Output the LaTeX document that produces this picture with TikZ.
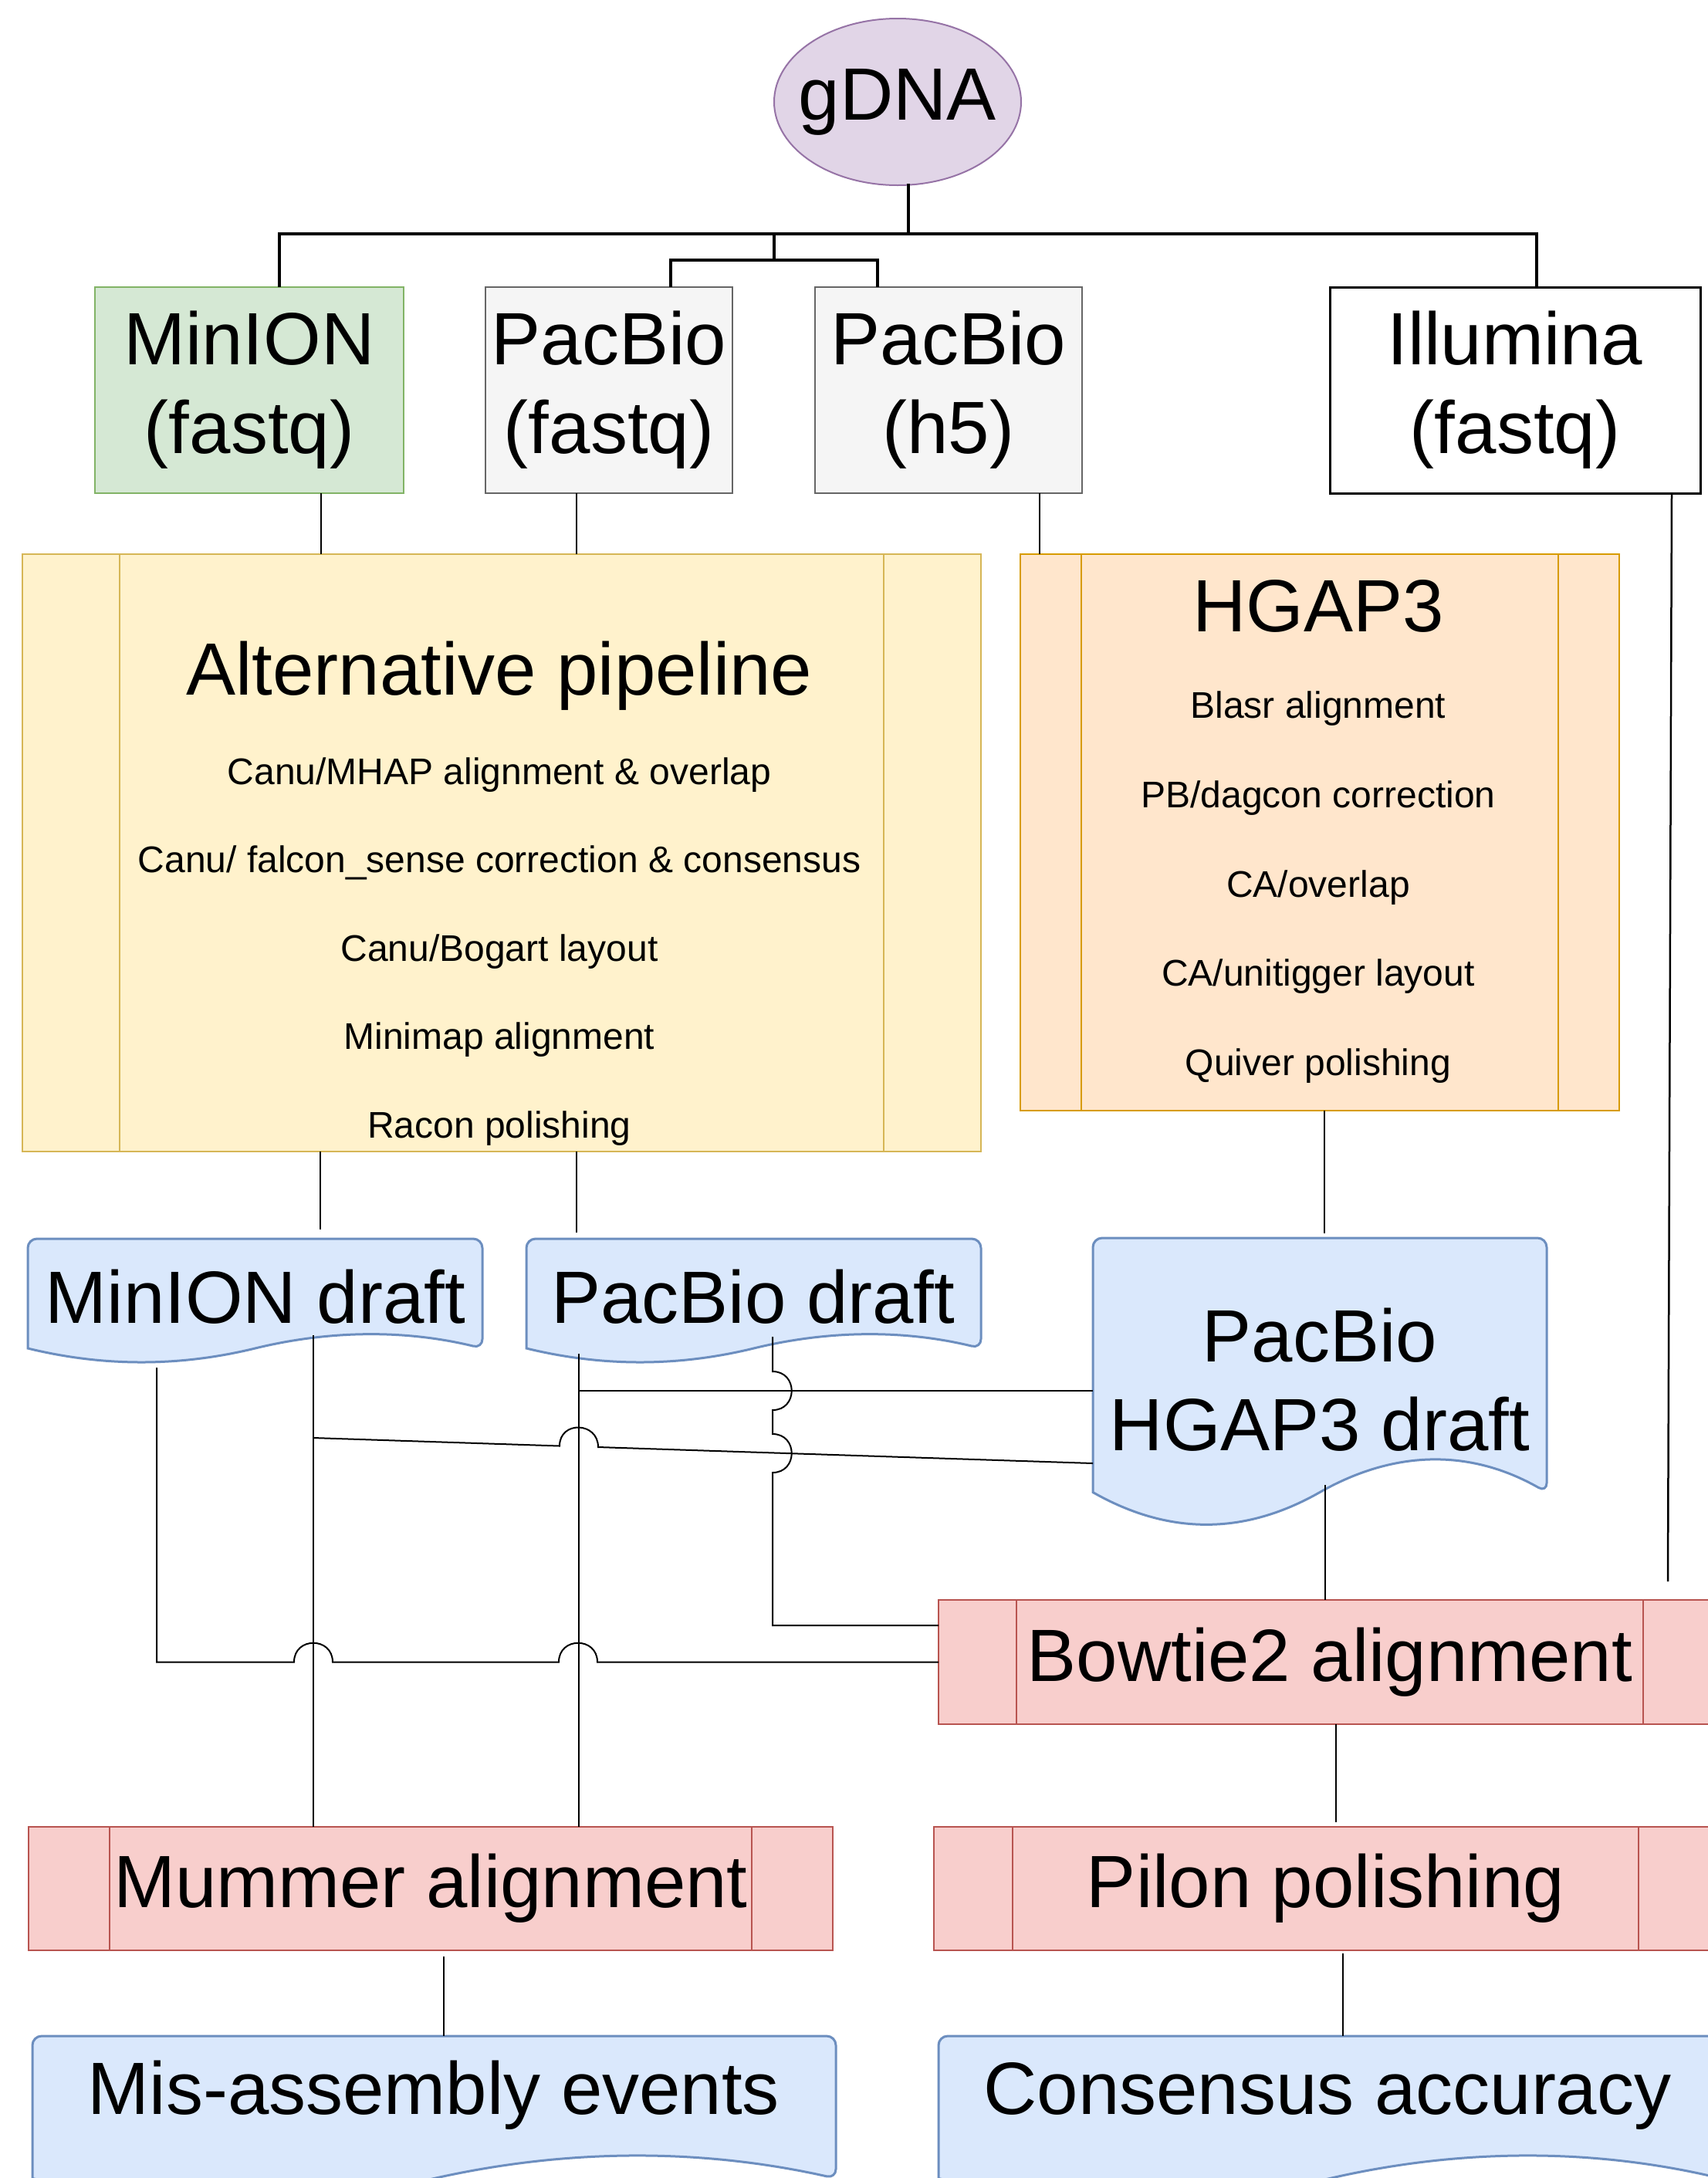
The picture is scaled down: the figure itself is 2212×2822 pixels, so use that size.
\documentclass[tikz,border=0pt]{standalone}
\usepackage{fontspec}
\setmainfont{Liberation Sans}
\usetikzlibrary{calc,shapes.geometric}
\definecolor{gfill}{HTML}{E1D5E7}\definecolor{gline}{HTML}{9673A6}
\definecolor{mfill}{HTML}{D5E8D4}\definecolor{mline}{HTML}{82B366}
\definecolor{pfill}{HTML}{F5F5F5}\definecolor{pline}{HTML}{666666}
\definecolor{afill}{HTML}{FFF2CC}\definecolor{aline}{HTML}{D6B656}
\definecolor{hfill}{HTML}{FFE6CC}\definecolor{hline}{HTML}{D79B00}
\definecolor{dfill}{HTML}{DAE8FC}\definecolor{dline}{HTML}{6C8EBF}
\definecolor{rfill}{HTML}{F8CECC}\definecolor{rline}{HTML}{B85450}
\tikzset{
 every node/.style={inner sep=0pt, outer sep=0pt},
 bigtxt/.style={font=\fontsize{96}{115}\selectfont},
 smtxt/.style={font=\fontsize{48}{58}\selectfont},
 srcbox/.style={rectangle, line width=2pt, minimum height=267pt, align=center, bigtxt},
 procbox/.style={rectangle, draw=rline, fill=rfill, line width=2pt, minimum height=161pt, bigtxt},
 stagebox/.style={rectangle, line width=2pt},
 docnode/.style={rectangle},
 docstyle/.style={fill=dfill, draw=dline, line width=3pt},
 conn/.style={draw=black, line width=2pt},
 busline/.style={draw=black, line width=4pt},
}
\newcommand\procsides[3]{\draw[#3, line width=2pt] ($(#1.north west)+(#2,0)$) -- ($(#1.south west)+(#2,0)$) ($(#1.north east)+(-#2,0)$) -- ($(#1.south east)+(-#2,0)$);}
\newcommand\docshape[2]{%
\path[docstyle] let \p1=(#1.south west), \p2=(#1.north east), \n1={\x2-\x1}, \n2={#2} in
 [rounded corners=12pt] (\x1,\y1+0.5*\n2) -- (\x1,\y2) -- (\x2,\y2) -- (\x2,\y1+0.5*\n2) [sharp corners]
 .. controls (\x1+0.8333*\n1,\y1+1.1*\n2) and (\x1+0.6667*\n1,\y1+1.1*\n2) .. (\x1+0.5*\n1,\y1+0.5*\n2)
 .. controls (\x1+0.3333*\n1,\y1-0.1*\n2) and (\x1+0.1667*\n1,\y1-0.1*\n2) .. (\x1,\y1+0.5*\n2) -- cycle;}
\begin{document}
\begin{tikzpicture}[x=1pt,y=-1pt]
\useasboundingbox (0,0) rectangle (2212,2822);
\fill[white] (0,0) rectangle (2212,2822);
% top
\node[ellipse, fill=gfill, draw=gline, line width=2pt, minimum width=320pt, minimum height=216pt, label={[bigtxt]center:gDNA}] (gdna) at (1163,132) {};
\node[srcbox, fill=mfill, draw=mline, minimum width=400pt] (minion) at (323,505.5) {MinION\\(fastq)};
\node[srcbox, fill=pfill, draw=pline, minimum width=320pt] (pbfq) at (789,505.5) {PacBio\\(fastq)};
\node[srcbox, fill=pfill, draw=pline, minimum width=346pt] (pbh5) at (1229,505.5) {PacBio\\(h5)};
\node[srcbox, fill=white, draw=black, line width=3pt, minimum width=480pt] (illu) at (1963,505.5) {Illumina\\(fastq)};
% stage boxes
\node[stagebox, fill=afill, draw=aline, minimum width=1242pt, minimum height=774pt] (alt) at (650,1105) {};
\procsides{alt}{126}{aline}
\node[stagebox, fill=hfill, draw=hline, minimum width=776pt, minimum height=721pt] (hgap) at (1710,1078.5) {};
\procsides{hgap}{79}{hline}
\node[bigtxt, anchor=base] (altT) at (647,900) {Alternative pipeline};
\node[smtxt, anchor=base] (alt1) at (647,1016) {Canu/MHAP alignment \& overlap};
\node[smtxt, anchor=base] (alt2) at (647,1130.5) {Canu/ falcon\_sense correction \& consensus};
\node[smtxt, anchor=base] (alt3) at (647,1245) {Canu/Bogart layout};
\node[smtxt, anchor=base] (alt4) at (647,1359.5) {Minimap alignment};
\node[smtxt, anchor=base] (alt5) at (647,1474) {Racon polishing};
\node[bigtxt, anchor=base] (hgT) at (1708,818) {HGAP3};
\node[smtxt, anchor=base] (hg1) at (1708,930) {Blasr alignment};
\node[smtxt, anchor=base] (hg2) at (1708,1046) {PB/dagcon correction};
\node[smtxt, anchor=base] (hg3) at (1708,1162) {CA/overlap};
\node[smtxt, anchor=base] (hg4) at (1708,1277) {CA/unitigger layout};
\node[smtxt, anchor=base] (hg5) at (1708,1393) {Quiver polishing};
% drafts
\node[docnode, minimum width=589pt, minimum height=162pt] (mdraft) at (330.5,1686) {};
\node[docnode, minimum width=589pt, minimum height=162pt] (pdraft) at (976.5,1686) {};
\node[docnode, minimum width=588pt, minimum height=376pt] (hdraft) at (1710,1792) {};
\docshape{mdraft}{40pt}
\docshape{pdraft}{40pt}
\docshape{hdraft}{93pt}
\node[bigtxt, anchor=base] (mdraftT) at (331,1714) {MinION draft};
\node[bigtxt, anchor=base] (pdraftT) at (976,1714) {PacBio draft};
\node[bigtxt, anchor=base] (hdraftT1) at (1710,1764) {PacBio};
\node[bigtxt, anchor=base] (hdraftT2) at (1710,1879) {HGAP3 draft};
% processing
\node[procbox, minimum width=1014pt] (bow) at (1723,2153.5) {Bowtie2 alignment};
\procsides{bow}{101}{rline}
\node[procbox, minimum width=1042pt, minimum height=160pt] (mum) at (558,2447) {Mummer alignment};
\procsides{mum}{105}{rline}
\node[procbox, minimum width=1015pt, minimum height=160pt] (pilon) at (1717.5,2447) {Pilon polishing};
\procsides{pilon}{102}{rline}
% results
\node[docnode, minimum width=1041pt, minimum height=217pt] (mis) at (562.5,2746.5) {};
\node[docnode, minimum width=1014pt, minimum height=217pt] (cons) at (1723,2746.5) {};
\docshape{mis}{65pt}
\docshape{cons}{65pt}
\node[bigtxt, anchor=base] (misT) at (562,2739) {Mis-assembly events};
\node[bigtxt, anchor=base] (consT) at (1720,2739) {Consensus accuracy};
% top bus
\coordinate (gd) at ($(gdna.south)+(14,-2)$);
\coordinate (j1) at ($(gdna.south)+(-160,63)$);
\draw[busline] (gd) -- (gd |- j1);
\draw[busline] ($(minion.north)+(39,0)$) |- (j1) -| ($(illu.north)+(28,0)$);
\draw[busline] (j1) -- ++(0,34) coordinate (j2);
\draw[busline] ($(pbfq.north)+(80,0)$) |- (j2) -| ($(pbh5.north)+(-92,0)$);
% sources to stages
\draw[conn] ($(minion.south)+(93,0)$) coordinate (a1) -- (a1 |- alt.north);
\draw[conn] ($(pbfq.south)+(-42,0)$) coordinate (a2) -- (a2 |- alt.north);
\draw[conn] ($(pbh5.south)+(118,0)$) coordinate (a3) -- (a3 |- hgap.north);
\coordinate (illuEnd) at (2161,2049);
\draw[conn, line width=2.5pt] ($(illu.south)+(203,0)$) -- (illuEnd);
% stages to drafts
\draw[conn] ($(alt.south)+(-235,0)$) -- ($(mdraft.north)+(84.5,-12)$);
\draw[conn] ($(alt.south)+(97,0)$) -- ($(pdraft.north)+(-229.5,-8)$);
\draw[conn] ($(hgap.south)+(6,0)$) -- ($(hdraft.north)+(6,-6)$);
% lower chain
\draw[conn] ($(hdraft.south)+(7,-56)$) -- ($(bow.north)+(-6,0)$);
\draw[conn] ($(bow.south)+(8,0)$) -- ($(pilon.north)+(13.5,-6)$);
\draw[conn] ($(pilon.south)+(22.5,4)$) -- ($(cons.north)+(17,0)$);
\draw[conn] ($(mum.south)+(17,8)$) -- ($(mis.north)+(12.5,0)$);
% cross connections
\draw[conn] ($(mdraft.south)+(75.5,-37)$) -- ($(mum.north)+(-152,0)$);
\draw[conn] ($(pdraft.south)+(-226.5,-13)$) -- ($(mum.north)+(192,0)$);
\coordinate (cj) at (750,1802);
\draw[conn] ($(hdraft.west)+(0,10)$) -- (cj);
\coordinate (ej) at (406,1863);
\draw[conn] ($(hdraft.west)+(0,104)$) -- (775,1875) .. controls (775,1842) and (725,1840.5) .. (725,1873.5) -- (ej);
\draw[conn] ($(mdraft.south)+(-127.5,5)$) -- (203,2153.5) -- (381,2153.5) .. controls (381,2120.5) and (431,2120.5) .. (431,2153.5) -- (724,2153.5) .. controls (724,2120.5) and (774,2120.5) .. (774,2153.5) -- (bow.west);
\draw[conn] ($(pdraft.south)+(24.5,-35)$) -- (1001,1777) .. controls (1034,1777) and (1034,1827) .. (1001,1827) -- (1001,1858) .. controls (1034,1858) and (1034,1908) .. (1001,1908) -- (1001,2106) -- ($(bow.west)+(0,-47.5)$);
\end{tikzpicture}
\end{document}
